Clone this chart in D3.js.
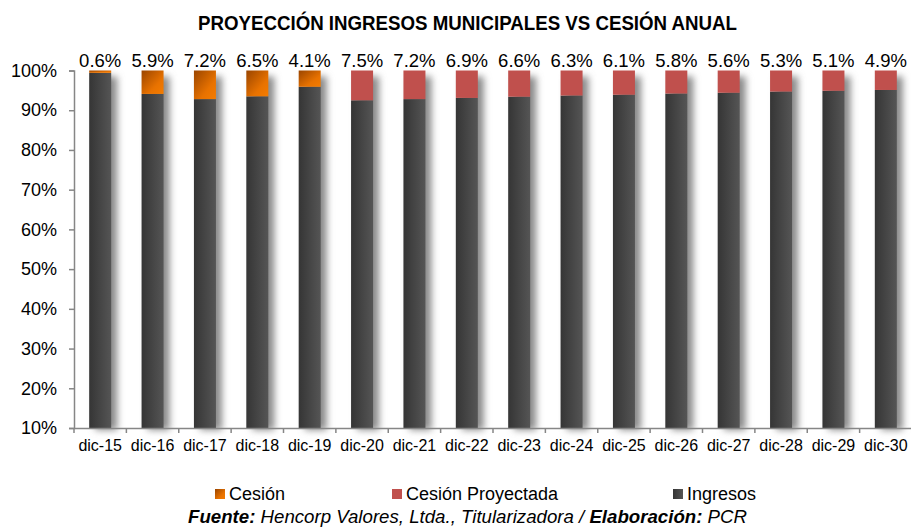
<!DOCTYPE html>
<html>
<head>
<meta charset="utf-8">
<script src="https://cdn.jsdelivr.net/npm/d3@7"></script>
<style>
  body { margin: 0; background: #fff; }
  text { font-family: "Liberation Sans", Arial, sans-serif; fill: #000; }
</style>
</head>
<body>
<svg id="chart" width="911" height="527"></svg>
<script>

// data
var years = ['dic-15','dic-16','dic-17','dic-18','dic-19','dic-20','dic-21','dic-22','dic-23','dic-24','dic-25','dic-26','dic-27','dic-28','dic-29','dic-30'];
var ingresos = [99.4, 94.1, 92.8, 93.5, 95.9, 92.5, 92.8, 93.1, 93.4, 93.7, 93.9, 94.2, 94.4, 94.7, 94.9, 95.1];
var cesion = [0.6, 5.9, 7.2, 6.5, 4.1, 0, 0, 0, 0, 0, 0, 0, 0, 0, 0, 0];
var cesionProyectada = [0, 0, 0, 0, 0, 7.5, 7.2, 6.9, 6.6, 6.3, 6.1, 5.8, 5.6, 5.3, 5.1, 4.9];
var yTicks = [10, 20, 30, 40, 50, 60, 70, 80, 90, 100];

var svg = d3.select('#chart');
var defs = svg.append('defs');

// gradients
var gDark = defs.append('linearGradient').attr('id', 'gDark').attr('x1', '0%').attr('x2', '100%');
gDark.append('stop').attr('offset', '0%').attr('stop-color', '#353535');
gDark.append('stop').attr('offset', '100%').attr('stop-color', '#555555');

var gOrange = defs.append('linearGradient').attr('id', 'gOrange')
	.attr('x1', '0%').attr('y1', '0%').attr('x2', '100%').attr('y2', '100%');
gOrange.append('stop').attr('offset', '0%').attr('stop-color', '#9a4500');
gOrange.append('stop').attr('offset', '65%').attr('stop-color', '#e87200');
gOrange.append('stop').attr('offset', '100%').attr('stop-color', '#f47c00');

var shadow = defs.append('filter').attr('id', 'shadow')
	.attr('x', '-50%').attr('y', '-10%').attr('width', '200%').attr('height', '120%');
shadow.append('feGaussianBlur').attr('stdDeviation', 3.5);

var x = d3.scaleBand().domain(years).range([74, 912]).paddingInner(0.58).paddingOuter(0.29);
var y = d3.scaleLinear().domain([10, 100]).range([428, 70.5]);

// title
svg.append('text')
	.attr('x', 467.5).attr('y', 30)
	.attr('text-anchor', 'middle')
	.attr('textLength', 539)
	.attr('lengthAdjust', 'spacingAndGlyphs')
	.style('font-weight', 'bold')
	.style('font-size', '19.5px')
	.text('PROYECCIÓN INGRESOS MUNICIPALES VS CESIÓN ANUAL');

// shadows behind bars
svg.append('g').selectAll('rect')
	.data(years)
	.enter()
	.append('rect')
		.attr('x', function(d){ return x(d) + 6 })
		.attr('y', function(d, i){ return y(ingresos[i] + cesion[i] + cesionProyectada[i]) + 6 })
		.attr('width', x.bandwidth())
		.attr('height', function(d, i){ return y(10) - y(ingresos[i] + cesion[i] + cesionProyectada[i]) - 4 })
		.style('fill', '#8a8a8a')
		.attr('filter', 'url(#shadow)');

// ingresos
svg.append('g').selectAll('rect')
	.data(years)
	.enter()
	.append('rect')
		.attr('x', function(d){ return x(d) })
		.attr('y', function(d, i){ return y(ingresos[i]) })
		.attr('width', x.bandwidth())
		.attr('height', function(d, i){ return y(10) - y(ingresos[i]) })
		.style('fill', 'url(#gDark)');

// cesion
svg.append('g').selectAll('rect')
	.data(years)
	.enter()
	.append('rect')
		.attr('x', function(d){ return x(d) })
		.attr('y', function(d, i){ return y(ingresos[i] + cesion[i]) })
		.attr('width', x.bandwidth())
		.attr('height', function(d, i){ return y(ingresos[i]) - y(ingresos[i] + cesion[i]) })
		.style('fill', 'url(#gOrange)');

// cesion proyectada
svg.append('g').selectAll('rect')
	.data(years)
	.enter()
	.append('rect')
		.attr('x', function(d){ return x(d) })
		.attr('y', function(d, i){ return y(ingresos[i] + cesionProyectada[i]) })
		.attr('width', x.bandwidth())
		.attr('height', function(d, i){ return y(ingresos[i]) - y(ingresos[i] + cesionProyectada[i]) })
		.style('fill', '#c0504d');

// labels on top
svg.append('g').selectAll('text')
	.data(years)
	.enter()
	.append('text')
		.attr('x', function(d){ return x(d) + x.bandwidth() / 2 })
		.attr('y', 67)
		.attr('text-anchor', 'middle')
		.style('font-size', '18.5px')
		.text(function(d, i){ return d3.format('.1f')(cesion[i] + cesionProyectada[i]) + '%' });

// axes
var yAxis = svg.append('g')
	.attr('transform', 'translate(74,0)')
	.call(d3.axisLeft(y).tickValues(yTicks).tickSize(5).tickPadding(12).tickFormat(function(d){ return d + '%' }));

var xAxis = svg.append('g')
	.attr('transform', 'translate(0,428)')
	.call(d3.axisBottom(x).tickSize(0).tickPadding(12));

xAxis.selectAll('.tick')
	.append('line')
		.attr('x1', x.step() / 2).attr('x2', x.step() / 2)
		.attr('y1', 0).attr('y2', 5);
svg.append('line')
	.attr('x1', 74).attr('x2', 74).attr('y1', 428).attr('y2', 433)
	.style('stroke', '#868686').style('stroke-width', 1.5);

[yAxis, xAxis].forEach(function(a){
	a.select('.domain').style('stroke', '#868686').style('stroke-width', 1.5);
	a.selectAll('.tick line').style('stroke', '#868686').style('stroke-width', 1.5);
	a.selectAll('text').style('font-size', '18px').style('font-family', '"Liberation Sans", Arial, sans-serif');
});
xAxis.selectAll('text').style('font-size', '16px');

// legend
var legend = [
	{ name: 'Cesión', fill: 'url(#gOrange)', x: 215 },
	{ name: 'Cesión Proyectada', fill: '#c0504d', x: 392 },
	{ name: 'Ingresos', fill: 'url(#gDark)', x: 673 }
];
var lg = svg.append('g').selectAll('g')
	.data(legend)
	.enter()
	.append('g')
		.attr('transform', function(d){ return 'translate(' + d.x + ',500)' });
lg.append('rect')
	.attr('x', 0).attr('y', -11).attr('width', 10).attr('height', 10)
	.style('fill', function(d){ return d.fill });
lg.append('text')
	.attr('x', 14).attr('y', 0)
	.style('font-size', '18px')
	.text(function(d){ return d.name });

// source
var src = svg.append('text')
	.attr('x', 467.5).attr('y', 523)
	.attr('text-anchor', 'middle')
	.attr('textLength', 559)
	.attr('lengthAdjust', 'spacingAndGlyphs')
	.style('font-size', '18px')
	.style('font-style', 'italic');
src.append('tspan').style('font-weight', 'bold').text('Fuente:');
src.append('tspan').text(' Hencorp Valores, Ltda., Titularizadora / ');
src.append('tspan').style('font-weight', 'bold').text('Elaboración:');
src.append('tspan').text(' PCR');

</script>
</body>
</html>
